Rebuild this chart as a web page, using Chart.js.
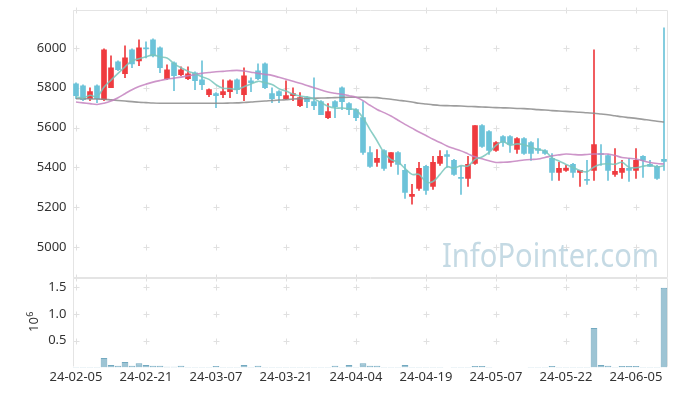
<!DOCTYPE html>
<html>
<head>
<meta charset="utf-8">
<script src="https://cdn.jsdelivr.net/npm/chart.js@4.4.0/dist/chart.umd.min.js"></script>
<style>
  html, body { margin:0; padding:0; background:#fff; }
  #wrap { position:relative; width:677px; height:396px; background:#fff; overflow:hidden; }
  #cTop { position:absolute; left:0; top:0; }
  #cVol { position:absolute; left:0; top:278px; }
</style>
</head>
<body>
<div id="wrap">
  <canvas id="cTop" width="677" height="278"></canvas>
  <canvas id="cVol" width="677" height="118"></canvas>
</div>
<script>
const dates = ["24-02-05","24-02-06","24-02-07","24-02-08","24-02-13","24-02-14","24-02-15","24-02-16","24-02-19","24-02-20",
"24-02-21","24-02-22","24-02-23","24-02-26","24-02-27","24-02-28","24-02-29","24-03-04","24-03-05","24-03-06",
"24-03-07","24-03-08","24-03-11","24-03-12","24-03-13","24-03-14","24-03-15","24-03-18","24-03-19","24-03-20",
"24-03-21","24-03-22","24-03-25","24-03-26","24-03-27","24-03-28","24-03-29","24-04-01","24-04-02","24-04-03",
"24-04-04","24-04-05","24-04-08","24-04-09","24-04-11","24-04-12","24-04-15","24-04-16","24-04-17","24-04-18",
"24-04-19","24-04-22","24-04-23","24-04-24","24-04-25","24-04-26","24-04-29","24-04-30","24-05-02","24-05-03",
"24-05-07","24-05-08","24-05-09","24-05-10","24-05-13","24-05-14","24-05-16","24-05-17","24-05-20","24-05-21",
"24-05-22","24-05-23","24-05-24","24-05-27","24-05-28","24-05-29","24-05-30","24-05-31","24-06-03","24-06-04",
"24-06-05","24-06-07","24-06-10","24-06-11","24-06-12"];

const opens = [5820,5810,5745,5810,5740,5800,5930,5870,5990,5935,
6000,6040,6000,5845,5925,5865,5845,5875,5840,5765,
5770,5765,5780,5840,5765,5835,5885,5920,5770,5780,
5745,5760,5710,5750,5730,5730,5650,5730,5800,5720,
5690,5650,5475,5425,5485,5425,5475,5385,5255,5295,
5405,5305,5420,5465,5435,5350,5345,5420,5610,5580,
5485,5555,5555,5490,5545,5525,5495,5485,5445,5375,
5385,5415,5375,5340,5385,5470,5460,5365,5375,5395,
5385,5455,5415,5405,5440];
const highs = [5825,5815,5800,5815,5995,5960,5935,6010,5995,6040,
6030,6045,6005,5915,5930,5905,5905,5880,5935,5795,
5775,5840,5840,5845,5900,5850,5920,5925,5800,5785,
5835,5800,5775,5755,5850,5735,5720,5735,5805,5725,
5695,5730,5505,5490,5490,5475,5480,5415,5315,5425,
5410,5455,5485,5485,5440,5405,5455,5610,5615,5585,
5530,5560,5560,5550,5550,5530,5545,5490,5470,5425,
5410,5420,5385,5435,5990,5515,5465,5495,5435,5445,
5495,5460,5435,5410,6100];
const lows = [5745,5735,5735,5725,5735,5800,5885,5850,5900,5910,
5950,5955,5875,5840,5785,5860,5840,5790,5790,5755,
5700,5750,5750,5770,5735,5780,5840,5795,5725,5725,
5740,5735,5705,5700,5690,5665,5645,5650,5690,5665,
5635,5465,5400,5405,5385,5405,5365,5245,5215,5285,
5265,5290,5410,5400,5360,5265,5305,5415,5500,5465,
5480,5505,5475,5470,5465,5435,5470,5465,5335,5335,
5380,5350,5305,5315,5335,5410,5335,5355,5345,5330,
5345,5350,5405,5340,5385];
const closes = [5760,5740,5780,5745,5990,5900,5890,5950,5920,6000,
5995,5960,5900,5890,5860,5890,5870,5835,5815,5790,
5760,5780,5835,5790,5860,5825,5845,5800,5745,5760,
5760,5770,5750,5730,5710,5665,5680,5705,5730,5690,
5650,5475,5405,5445,5395,5475,5415,5275,5265,5395,
5285,5425,5455,5455,5365,5345,5415,5610,5505,5485,
5525,5525,5515,5545,5470,5470,5485,5470,5375,5395,
5395,5375,5385,5335,5515,5465,5385,5380,5395,5385,
5435,5435,5405,5345,5430];

const ma5 = [5755,5748,5762,5755,5803,5838,5872,5905,5935,5945,
5955,5965,5955,5949,5921,5900,5883,5870,5855,5842,
5815,5797,5796,5791,5805,5819,5832,5825,5816,5795,
5783,5768,5758,5754,5744,5725,5707,5698,5698,5694,
5688,5648,5590,5534,5474,5439,5427,5395,5365,5365,
5327,5329,5365,5403,5396,5409,5407,5440,5452,5475,
5510,5530,5512,5518,5514,5502,5490,5482,5448,5432,
5415,5400,5385,5378,5402,5416,5418,5416,5426,5401,
5398,5406,5411,5402,5408];
const ma20 = [5728,5724,5720,5716,5722,5733,5750,5770,5790,5806,
5818,5828,5836,5843,5848,5853,5860,5866,5872,5876,
5880,5882,5885,5887,5884,5878,5872,5867,5862,5852,
5842,5832,5822,5811,5800,5789,5778,5772,5767,5760,
5752,5735,5712,5691,5675,5658,5637,5616,5597,5578,
5560,5541,5525,5508,5495,5483,5468,5453,5443,5433,
5425,5426,5428,5432,5437,5440,5442,5450,5458,5463,
5467,5465,5463,5465,5467,5467,5467,5460,5450,5446,
5442,5433,5425,5420,5417];
const ma60 = [5745,5745,5744,5743,5742,5739,5736,5733,5730,5727,
5725,5723,5722,5722,5722,5722,5722,5722,5722,5722,
5722,5722,5723,5724,5726,5728,5731,5733,5736,5738,
5740,5743,5745,5746,5747,5748,5749,5750,5751,5752,
5752,5752,5751,5750,5746,5742,5737,5733,5728,5722,
5718,5714,5711,5710,5709,5708,5706,5705,5703,5702,
5700,5699,5698,5696,5695,5693,5690,5688,5685,5683,
5681,5679,5677,5674,5672,5668,5664,5659,5654,5650,
5646,5641,5637,5632,5628];

const volumes = [8000,8000,8000,8000,175000,45000,30000,100000,30000,80000,
45000,30000,30000,10000,10000,30000,8000,8000,8000,8000,
25000,8000,8000,8000,45000,8000,30000,8000,8000,8000,
8000,8000,8000,8000,8000,8000,8000,30000,8000,45000,
8000,80000,30000,30000,8000,8000,8000,45000,8000,8000,
8000,8000,8000,0,8000,8000,8000,25000,25000,8000,
0,0,0,0,0,8000,8000,8000,25000,8000,
8000,8000,8000,8000,740000,45000,30000,8000,25000,25000,
25000,8000,8000,8000,1490000];

const priceTicks = [5000,5200,5400,5600,5800,6000];
const volTicks = [500000,1000000,1500000];
const labelEvery = 10;

const UP = '#ef3b3f', DOWN = '#6cc3d9';
const candleColors = opens.map((o,i)=> closes[i] >= o ? UP : DOWN);
const FONT = "'Noto Sans', 'DejaVu Sans', sans-serif";
const AXIS_W = 72.5;

function gridIdx(){ const a=[]; for(let i=0;i<dates.length;i+=labelEvery) a.push(i); return a; }
function fixY(s){ s.width = AXIS_W; s.paddingTop = 0; s.paddingBottom = 0; }
function fixX(s){ s.paddingLeft = 0; s.paddingRight = 0; }

const framePlugin = {
  id:'frame',
  beforeDatasetsDraw(chart, args, opts){
    const {ctx, chartArea:a, scales} = chart;
    const yScale = scales[opts.yId];
    ctx.save();
    ctx.strokeStyle = '#e0e0e0'; ctx.lineWidth = 1;
    const xs = gridIdx().map(i=>Math.round(scales.x.getPixelForValue(i))+0.5);
    const ys = yScale.ticks.map(t=>Math.round(yScale.getPixelForValue(t.value))+0.5);
    if (opts.topTick) ys.push(Math.round(a.top)+0.5);
    if (opts.bottomTick) ys.push(Math.round(a.bottom)-0.5);
    ctx.beginPath();
    xs.forEach(x=>ys.forEach(y=>{ ctx.moveTo(x-3,y); ctx.lineTo(x+3,y); ctx.moveTo(x,y-3); ctx.lineTo(x,y+3); }));
    ctx.stroke();
    ctx.strokeStyle = '#e4e4e4';
    const L = Math.round(a.left)+0.5, R = Math.round(a.right)-0.5, T = Math.round(a.top)+0.5, B = Math.round(a.bottom)-0.5;
    ctx.beginPath();
    ctx.moveTo(L,B); ctx.lineTo(L,T); ctx.lineTo(R,T); ctx.lineTo(R,B);
    if (opts.bottomLine) { ctx.moveTo(L,B); ctx.lineTo(R,B); }
    ctx.stroke();
    if (opts.watermark) {
      ctx.font = "33px " + FONT;
      ctx.fillStyle = 'rgba(172,203,217,0.7)';
      ctx.textBaseline = 'alphabetic';
      const txt = 'InfoPointer.com';
      const w = ctx.measureText(txt).width;
      ctx.translate(442, 267);
      ctx.scale(217/w, 1);
      ctx.fillText(txt, 0, 0);
    }
    ctx.restore();
  }
};

const expPlugin = {
  id:'exp',
  afterDraw(chart){
    const ctx = chart.ctx;
    ctx.save();
    ctx.translate(37.5, 54);
    ctx.rotate(-Math.PI/2);
    ctx.fillStyle = '#333';
    ctx.textBaseline = 'alphabetic';
    ctx.textAlign = 'left';
    ctx.font = "13px " + FONT;
    ctx.fillText('10', 0, 0);
    const w = ctx.measureText('10').width;
    ctx.font = "9px " + FONT;
    ctx.fillText('6', w+0.5, -5);
    ctx.restore();
  }
};

new Chart(document.getElementById('cTop'), {
  type:'bar',
  data:{
    labels: dates,
    datasets:[
      {type:'line', data: ma5, borderColor:'rgba(120,198,188,0.85)', borderWidth:1.6, pointRadius:0, tension:0.35, order:0},
      {type:'line', data: ma20, borderColor:'rgba(196,130,192,0.85)', borderWidth:1.6, pointRadius:0, tension:0.35, order:0},
      {type:'line', data: ma60, borderColor:'rgba(140,140,140,0.85)', borderWidth:1.6, pointRadius:0, tension:0.35, order:0},
      {data: lows.map((l,i)=>[l, highs[i]]), backgroundColor: candleColors, barThickness:1, grouped:false, order:2},
      {data: opens.map((o,i)=>[o, closes[i]]), backgroundColor: candleColors, barThickness:5, grouped:false, order:1, minBarLength:1}
    ]
  },
  options:{
    responsive:false, animation:false, devicePixelRatio:1,
    layout:{padding:{left:0, right:9.5, top:10, bottom:0}},
    plugins:{legend:{display:false}, tooltip:{enabled:false},
      frame:{yId:'y', topTick:true, bottomTick:true, bottomLine:true, watermark:true}},
    scales:{
      x:{display:false, offset:true, grid:{display:false}, afterFit: fixX},
      y:{min:4845, max:6190,
         afterFit: fixY,
         afterBuildTicks(s){ s.ticks = priceTicks.map(v=>({value:v})); },
         grid:{display:false, drawTicks:false}, border:{display:false},
         ticks:{color:'#333', font:{family:FONT, size:13}, padding:6, callback(v){ return String(v); }}}
    }
  },
  plugins:[framePlugin]
});

new Chart(document.getElementById('cVol'), {
  type:'bar',
  data:{
    labels: dates,
    datasets:[
      {data: volumes, backgroundColor:'rgba(140,186,205,0.85)', borderColor:'rgba(100,160,185,0.9)', borderWidth:1,
       categoryPercentage:1, barPercentage:0.95}
    ]
  },
  options:{
    responsive:false, animation:false, devicePixelRatio:1,
    layout:{padding:{left:0, right:9.5, top:0, bottom:9}},
    plugins:{legend:{display:false}, tooltip:{enabled:false},
      frame:{yId:'y', topTick:true, bottomTick:false, bottomLine:false, watermark:false}},
    scales:{
      x:{offset:true, grid:{display:false, drawTicks:false}, border:{display:false},
         afterFit: fixX,
         afterBuildTicks(s){ s.ticks = s.ticks.filter(t=>t.value % labelEvery === 0); },
         ticks:{autoSkip:false, maxRotation:0, minRotation:0, padding:2, color:'#333', font:{family:FONT, size:13},
                callback(v){ return dates[v]; }}},
      y:{min:0, max:1675000,
         afterFit: fixY,
         afterBuildTicks(s){ s.ticks = volTicks.map(v=>({value:v})); },
         grid:{display:false, drawTicks:false}, border:{display:false},
         ticks:{color:'#333', font:{family:FONT, size:13}, padding:6, callback(v){ return (v/1e6).toFixed(1); }}}
    }
  },
  plugins:[framePlugin, expPlugin]
});
</script>
</body>
</html>
